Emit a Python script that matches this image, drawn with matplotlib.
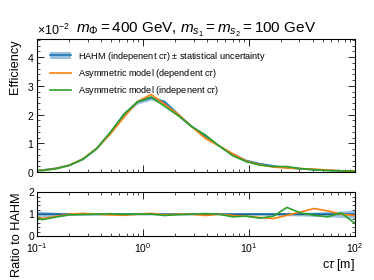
import numpy as np
import matplotlib
matplotlib.use("Agg")
import matplotlib.pyplot as plt
from matplotlib.patches import Patch
from matplotlib.lines import Line2D
from matplotlib.ticker import LogLocator, MultipleLocator, NullFormatter

plt.rcParams['font.family'] = ['Liberation Sans', 'DejaVu Sans']
plt.rcParams['mathtext.fontset'] = 'custom'
plt.rcParams['mathtext.rm'] = 'Liberation Sans'
plt.rcParams['mathtext.it'] = 'Liberation Sans:italic'
plt.rcParams['mathtext.bf'] = 'Liberation Sans:bold'

# c*tau values [m]
ctau = [0.0835, 0.1122, 0.1508, 0.2026, 0.272, 0.366, 0.491, 0.660, 0.887,
        1.192, 1.601, 2.151, 2.890, 3.883, 5.217, 7.010, 9.418, 12.65, 17.00,
        22.84, 30.69, 41.23, 55.40, 74.43, 100.0]

# efficiencies
eff_hahm = [0.0004, 0.0007, 0.0013, 0.0024, 0.0045, 0.0082, 0.0136, 0.0201, 0.0244,
            0.0258, 0.0244, 0.0200, 0.0158, 0.0125, 0.0091, 0.0063, 0.0040, 0.0029,
            0.0021, 0.0015, 0.0011, 0.0008, 0.0006, 0.0004, 0.0003]
eff_dep = [0.0004, 0.0006, 0.0012, 0.0024, 0.0046, 0.0082, 0.0132, 0.0190, 0.0245,
           0.0270, 0.0236, 0.0200, 0.0158, 0.0117, 0.0091, 0.0064, 0.0038, 0.0026,
           0.0017, 0.0014, 0.0012, 0.0010, 0.0007, 0.0004, 0.0003]
eff_indep = [0.0004, 0.0005, 0.0011, 0.0023, 0.0045, 0.0082, 0.0138, 0.0200, 0.0244,
             0.0261, 0.0229, 0.0196, 0.0158, 0.0129, 0.0091, 0.0057, 0.0036, 0.0024,
             0.0019, 0.0019, 0.0012, 0.0008, 0.0005, 0.0004, 0.0002]
# relative statistical uncertainty of HAHM
rel_unc = [0.18, 0.13, 0.09, 0.06, 0.05, 0.04, 0.03, 0.03, 0.03, 0.03, 0.03, 0.03,
           0.03, 0.03, 0.03, 0.04, 0.05, 0.05, 0.06, 0.07, 0.08, 0.10, 0.12, 0.15, 0.20]

# ratios to HAHM
ratio_dep = [1.0, 0.80, 0.90, 1.00, 1.04, 1.00, 0.97, 0.95, 1.00, 1.04, 0.97, 1.00,
             1.00, 0.94, 1.00, 0.94, 0.91, 0.85, 0.80, 0.95, 1.10, 1.26, 1.15, 1.00, 0.94]
ratio_indep = [1.0, 0.75, 0.87, 0.97, 0.99, 1.00, 1.02, 0.99, 1.00, 1.01, 0.94, 0.98,
               1.00, 1.03, 1.00, 0.88, 0.91, 0.82, 0.91, 1.31, 1.06, 0.95, 0.88, 1.06, 0.58]

blue = '#1f77b4'
orange = '#ff7f0e'
green = '#2ca02c'

x = np.array(ctau)
e_h = np.array(eff_hahm)
u = np.array(rel_unc)

fig = plt.figure(figsize=(3.74, 2.80), dpi=100)
ax = fig.add_axes([0.0989, 0.3857, 0.850, 0.475])
rx = fig.add_axes([0.0989, 0.157, 0.850, 0.156])

LW = 1.2
ax.fill_between(x, e_h * (1 - u), e_h * (1 + u), color=blue, alpha=0.45, lw=0)
ax.plot(x, e_h, color=blue, lw=LW)
ax.plot(x, eff_dep, color=orange, lw=LW)
ax.plot(x, eff_indep, color=green, lw=LW)

rx.fill_between(x, 1 - u, 1 + u, color=blue, alpha=0.45, lw=0)
rx.axhline(1.0, color='black', lw=0.8)
rx.plot(x, np.ones_like(x), color=blue, lw=LW)
rx.plot(x, ratio_dep, color=orange, lw=LW)
rx.plot(x, ratio_indep, color=green, lw=LW)

for a in (ax, rx):
    a.set_xscale('log')
    a.set_xlim(0.1, 100)
    a.tick_params(which='both', direction='in', top=True, right=True, labelsize=7.5, pad=2)
    a.tick_params(axis='x', which='both', pad=4)
    a.tick_params(which='major', length=5, width=0.6)
    a.tick_params(which='minor', length=2.5, width=0.5)
    a.xaxis.set_major_locator(LogLocator(base=10, numticks=10))
    a.xaxis.set_minor_locator(LogLocator(base=10, subs=np.arange(2, 10), numticks=20))
    for s in a.spines.values():
        s.set_linewidth(0.8)

ax.set_ylim(0, 0.0463)
ax.yaxis.set_major_locator(MultipleLocator(0.01))
ax.yaxis.set_minor_locator(MultipleLocator(0.002))
ax.ticklabel_format(axis='y', style='sci', scilimits=(0, 0), useMathText=True)
ax.xaxis.set_major_formatter(NullFormatter())
ax.xaxis.set_minor_formatter(NullFormatter())
ax.set_ylabel('Efficiency', fontsize=9.2, loc='top')
ax.set_title(r'$m_{\Phi} = 400$ GeV, $m_{s_1} = m_{s_2} = 100$ GeV', fontsize=11, pad=3)

rx.set_ylim(0, 2)
rx.yaxis.set_major_locator(MultipleLocator(1))
rx.yaxis.set_minor_locator(MultipleLocator(0.2))
rx.set_ylabel('Ratio to HAHM', fontsize=9.2, loc='top')
rx.set_xlabel(r'c$\tau$ [m]', fontsize=9, loc='right', labelpad=1)

handles = [(Patch(color=blue, alpha=0.45, lw=0), Line2D([], [], color=blue, lw=LW)),
           Line2D([], [], color=orange, lw=LW),
           Line2D([], [], color=green, lw=LW)]
labels = [r'HAHM (indepenent c$\tau$) $\pm$ statistical uncertainty',
          r'Asymmetric model (dependent c$\tau$)',
          r'Asymmetric model (indepenent c$\tau$)']
ax.legend(handles, labels, loc='upper left', fontsize=6.6, frameon=False,
          bbox_to_anchor=(0.04, 0.92), borderaxespad=0, borderpad=0,
          handlelength=2.3, handletextpad=0.8, labelspacing=0.45)

fig.align_ylabels([ax, rx])
ax.yaxis.get_offset_text().set_fontsize(9)
fig.savefig('out.png', dpi=100)
